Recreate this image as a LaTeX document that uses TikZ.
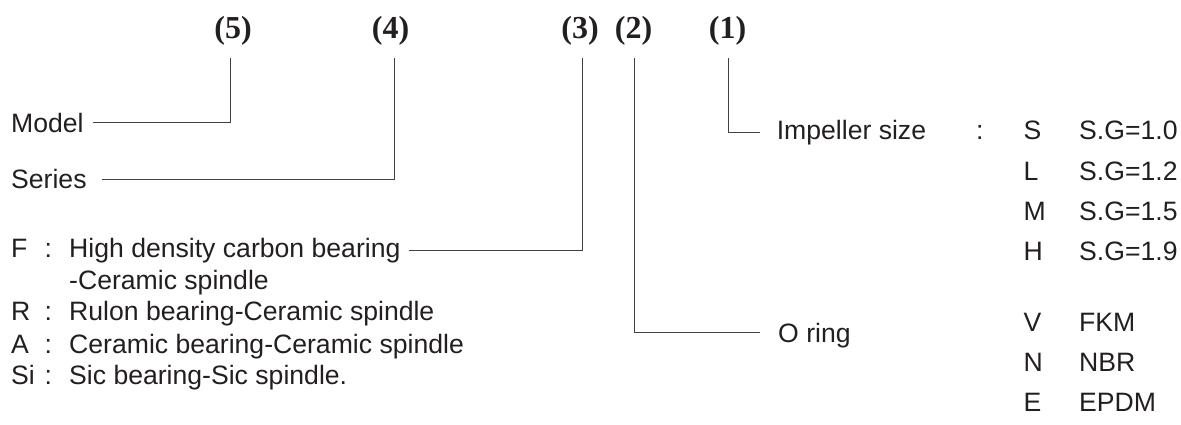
\documentclass[tikz,border=0pt]{standalone}
\usepackage{fontspec}
\setmainfont{Liberation Sans}
\newfontfamily\numfont{Liberation Serif}
\definecolor{ink}{HTML}{231F20}

\begin{document}
\begin{tikzpicture}[x=1pt, y=-1pt,
  txt/.style={anchor=base west, inner sep=0pt, text=ink,
    font=\fontsize{26.6}{30}\selectfont},
  num/.style={anchor=base, inner sep=0pt, text=ink,
    font=\numfont\bfseries\fontsize{32}{36}\selectfont},
  lead/.style={draw=ink!85, line width=0.9pt}]

  \useasboundingbox (0,0) rectangle (1181,424);

  % Position numbers
  \foreach \x/\n in {233/5, 390.5/4, 580/3, 633.5/2, 727.5/1}
    \node[num] (n\n) at (\x, 38.5) {(\n)};

  % Tops of the leader lines
  \coordinate (t5) at (230.7, 58);
  \coordinate (t4) at (394.7, 58);
  \coordinate (t3) at (582.3, 58);
  \coordinate (t2) at (634.3, 58);
  \coordinate (t1) at (728.3, 58);

  % 1. left side: model, series, bearing
  \node[txt] (model)  at (11, 132)   {Model};
  \node[txt] (series) at (11, 188.7) {Series};

  \node[txt] (keyF)  at (11, 257.3)   {F};
  \node[txt] (colF)  at (44.5, 257.3) {:};
  \node[txt] (bearF) at (69, 257.3)   {High density carbon bearing};
  \node[txt] (bearFb) at (69, 289)    {-Ceramic spindle};
  \foreach \k/\t/\y in {R/Rulon bearing-Ceramic spindle/320.5,
      A/Ceramic bearing-Ceramic spindle/353,
      Si/Sic bearing-Sic spindle./384.5} {
    \node[txt] (key\k) at (11, \y)   {\k};
    \node[txt] (col\k) at (44.5, \y) {:};
    \node[txt] (bear\k) at (69, \y)  {\t};
  }

  % 2. right side: impeller size, o ring
  \node[txt] (imp)    at (776.6, 139.3) {Impeller size};
  \node[txt] (colimp) at (976, 139.3) {:};
  \foreach \k/\v/\y [count=\i] in {S/S.G=1.0/139.3, L/S.G=1.2/180,
      M/S.G=1.5/220, H/S.G=1.9/260} {
    \node[txt] (size\i) at (1023.5, \y) {\k};
    \node[txt] (sg\i)   at (1079, \y)   {\v};
  }

  \node[txt] (oring) at (778, 342.3) {O ring};
  \foreach \k/\v/\y [count=\i] in {V/FKM/331.7, N/NBR/371.7, E/EPDM/411.7} {
    \node[txt] (ring\i) at (1023.5, \y) {\k};
    \node[txt] (mat\i)  at (1079, \y)   {\v};
  }

  % Leader lines
  \draw[lead] ([xshift=9pt]model.east) -| (t5);
  \draw[lead] ([xshift=15pt]series.east) -| (t4);
  \draw[lead] ([xshift=8pt]bearF.east) -| (t3);
  \draw[lead] (t2) |- ([xshift=-18pt,yshift=3pt]oring.west);
  \draw[lead] (t1) |- ([xshift=-17pt]imp.west);

\end{tikzpicture}
\end{document}
